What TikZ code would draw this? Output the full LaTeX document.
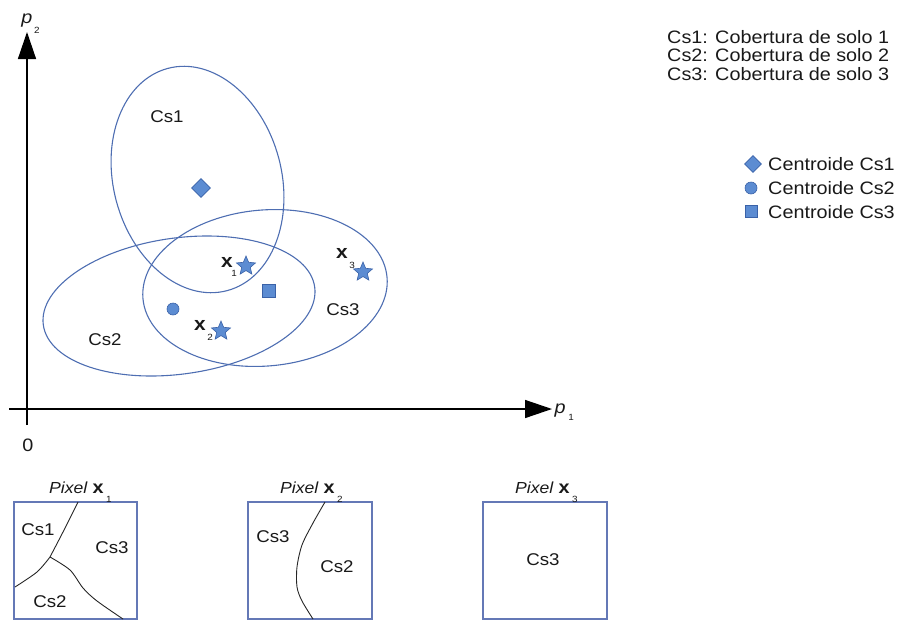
\documentclass[tikz,border=0pt]{standalone}
\usepackage{fontspec}
\setmainfont{Liberation Sans}[FakeStretch=1.1]
\usetikzlibrary{shapes.geometric,arrows.meta}
\definecolor{ellc}{RGB}{78,110,178}
\definecolor{boxc}{RGB}{100,120,182}
\definecolor{mkfill}{RGB}{92,140,210}
\definecolor{mkdraw}{RGB}{58,98,168}
\definecolor{txt}{RGB}{25,25,25}
\begin{document}
\begin{tikzpicture}[x=1pt,y=-1pt,
  ell/.style={draw=ellc,line width=1.1pt},
  mk/.style={fill=mkfill,draw=mkdraw,line width=0.6pt,inner sep=0pt},
  starmk/.style={mk,star,star points=5,star point ratio=2.2,minimum size=20pt},
  diamk/.style={mk,diamond,minimum size=19pt},
  dotmk/.style={mk,circle,minimum size=12pt},
  sqmk/.style={mk,rectangle,minimum size=13pt},
  lbl/.style={inner sep=0pt,text=txt,font=\fontsize{17}{17}\selectfont},
  leg/.style={inner sep=0pt,text=txt,anchor=base west,font=\fontsize{18}{18}\selectfont},
  bx/.style={inner sep=0pt,text=txt,font=\fontsize{19}{19}\selectfont\bfseries},
  sub/.style={inner sep=0pt,text=txt,font=\fontsize{9}{9}\selectfont},
  ttl/.style={inner sep=0pt,text=txt,anchor=base west,font=\fontsize{16}{16}\selectfont},
  pixbox/.style={draw=boxc,line width=1.1pt},
  bnd/.style={draw=black!85,line width=0.9pt},
  axis/.style={line width=1.4pt,-{Triangle[length=27pt,width=18pt]}}]
\useasboundingbox (0,0) rectangle (901,621);
% axes
\coordinate (ybot) at (27,425);
\coordinate (ytop) at (27,32);
\coordinate (xl) at (9,409);
\coordinate (xr) at (552,409);
\draw[axis] (ybot) -- (ytop);
\draw[axis] (xl) -- (xr);
\node[lbl,anchor=base,font=\fontsize{18}{18}\selectfont\itshape] (p2) at (27,23) {p};
\node[sub] (p2s) at (37,30) {2};
\node[lbl,anchor=base,font=\fontsize{18}{18}\selectfont\itshape] (p1) at (560,413) {p};
\node[sub] (p1s) at (571,417) {1};
\node[lbl,font=\fontsize{18}{18}\selectfont] (zero) at (28,445) {0};
% ellipses
\draw[ell,rotate around={15:(197.5,179.5)}] (197.5,179.5) ellipse [x radius=84pt,y radius=115pt];
\draw[ell,rotate around={8:(179,306)}] (179,306) ellipse [x radius=137pt,y radius=68pt];
\draw[ell,rotate around={5:(265,288)}] (265,288) ellipse [x radius=122.5pt,y radius=78pt];
\node[lbl] (cs1) at (167,117) {Cs1};
\node[lbl] (cs2) at (105,340) {Cs2};
\node[lbl] (cs3) at (343,310) {Cs3};
% centroids
\node[diamk] (c1) at (201,188) {};
\node[dotmk] (c2) at (173,309) {};
\node[sqmk] (c3) at (269,291) {};
% pixels
\node[starmk] (s1) at (246,266) {};
\node[starmk] (s2) at (221,331) {};
\node[starmk] (s3) at (363,272) {};
\node[bx] (x1) at (227,262) {x};
\node[sub] (x1s) at (234,273) {1};
\node[bx] (x2) at (200,325) {x};
\node[sub] (x2s) at (210,337) {2};
\node[bx] (x3) at (342,253) {x};
\node[sub] (x3s) at (352,265) {3};
% legend
\node[leg] (l1) at (667,43) {Cs1: Cobertura de solo 1};
\node[leg] (l2) at (667,61.5) {Cs2: Cobertura de solo 2};
\node[leg] (l3) at (667,80) {Cs3: Cobertura de solo 3};
\node[mk,diamond,minimum size=17pt] (lm1) at (753,164) {};
\node[dotmk] (lm2) at (751,188) {};
\node[sqmk,minimum size=12pt] (lm3) at (751,211) {};
\node[leg] (lc1) at (768,170.5) {Centroide Cs1};
\node[leg] (lc2) at (768,194.5) {Centroide Cs2};
\node[leg] (lc3) at (768,218) {Centroide Cs3};
% pixel boxes
\draw[pixbox] (14,502) rectangle (137,619);
\draw[pixbox] (248,502) rectangle (372,619);
\draw[pixbox] (483,502) rectangle (607,619);
\node[ttl] (t1) at (49,493) {\textit{Pixel} {\fontsize{18}{18}\selectfont\bfseries x}};
\node[sub,anchor=west] (t1s) at ([xshift=2pt,yshift=-6pt]t1.base east) {1};
\node[ttl] (t2) at (280,493) {\textit{Pixel} {\fontsize{18}{18}\selectfont\bfseries x}};
\node[sub,anchor=west] (t2s) at ([xshift=2pt,yshift=-6pt]t2.base east) {2};
\node[ttl] (t3) at (515,493) {\textit{Pixel} {\fontsize{18}{18}\selectfont\bfseries x}};
\node[sub,anchor=west] (t3s) at ([xshift=2pt,yshift=-6pt]t3.base east) {3};
% boundaries in pixel x1
\draw[bnd] plot[smooth] coordinates {(78,502) (63,532) (50,557)};
\draw[bnd] plot[smooth] coordinates {(15,587) (37,572) (50,557)};
\draw[bnd] plot[smooth] coordinates {(50,557) (70,570) (83,588) (97,601) (123,619)};
\node[lbl] (b1a) at (38,530) {Cs1};
\node[lbl] (b1b) at (112,548) {Cs3};
\node[lbl] (b1c) at (50,602) {Cs2};
% boundary in pixel x2
\draw[bnd] plot[smooth] coordinates {(325,502) (313,523) (302,545) (297,567) (297,587) (302,601) (313,619)};
\node[lbl] (b2a) at (273,537) {Cs3};
\node[lbl] (b2b) at (337,567) {Cs2};
% pixel x3
\node[lbl] (b3a) at (543,560) {Cs3};
\end{tikzpicture}
\end{document}
